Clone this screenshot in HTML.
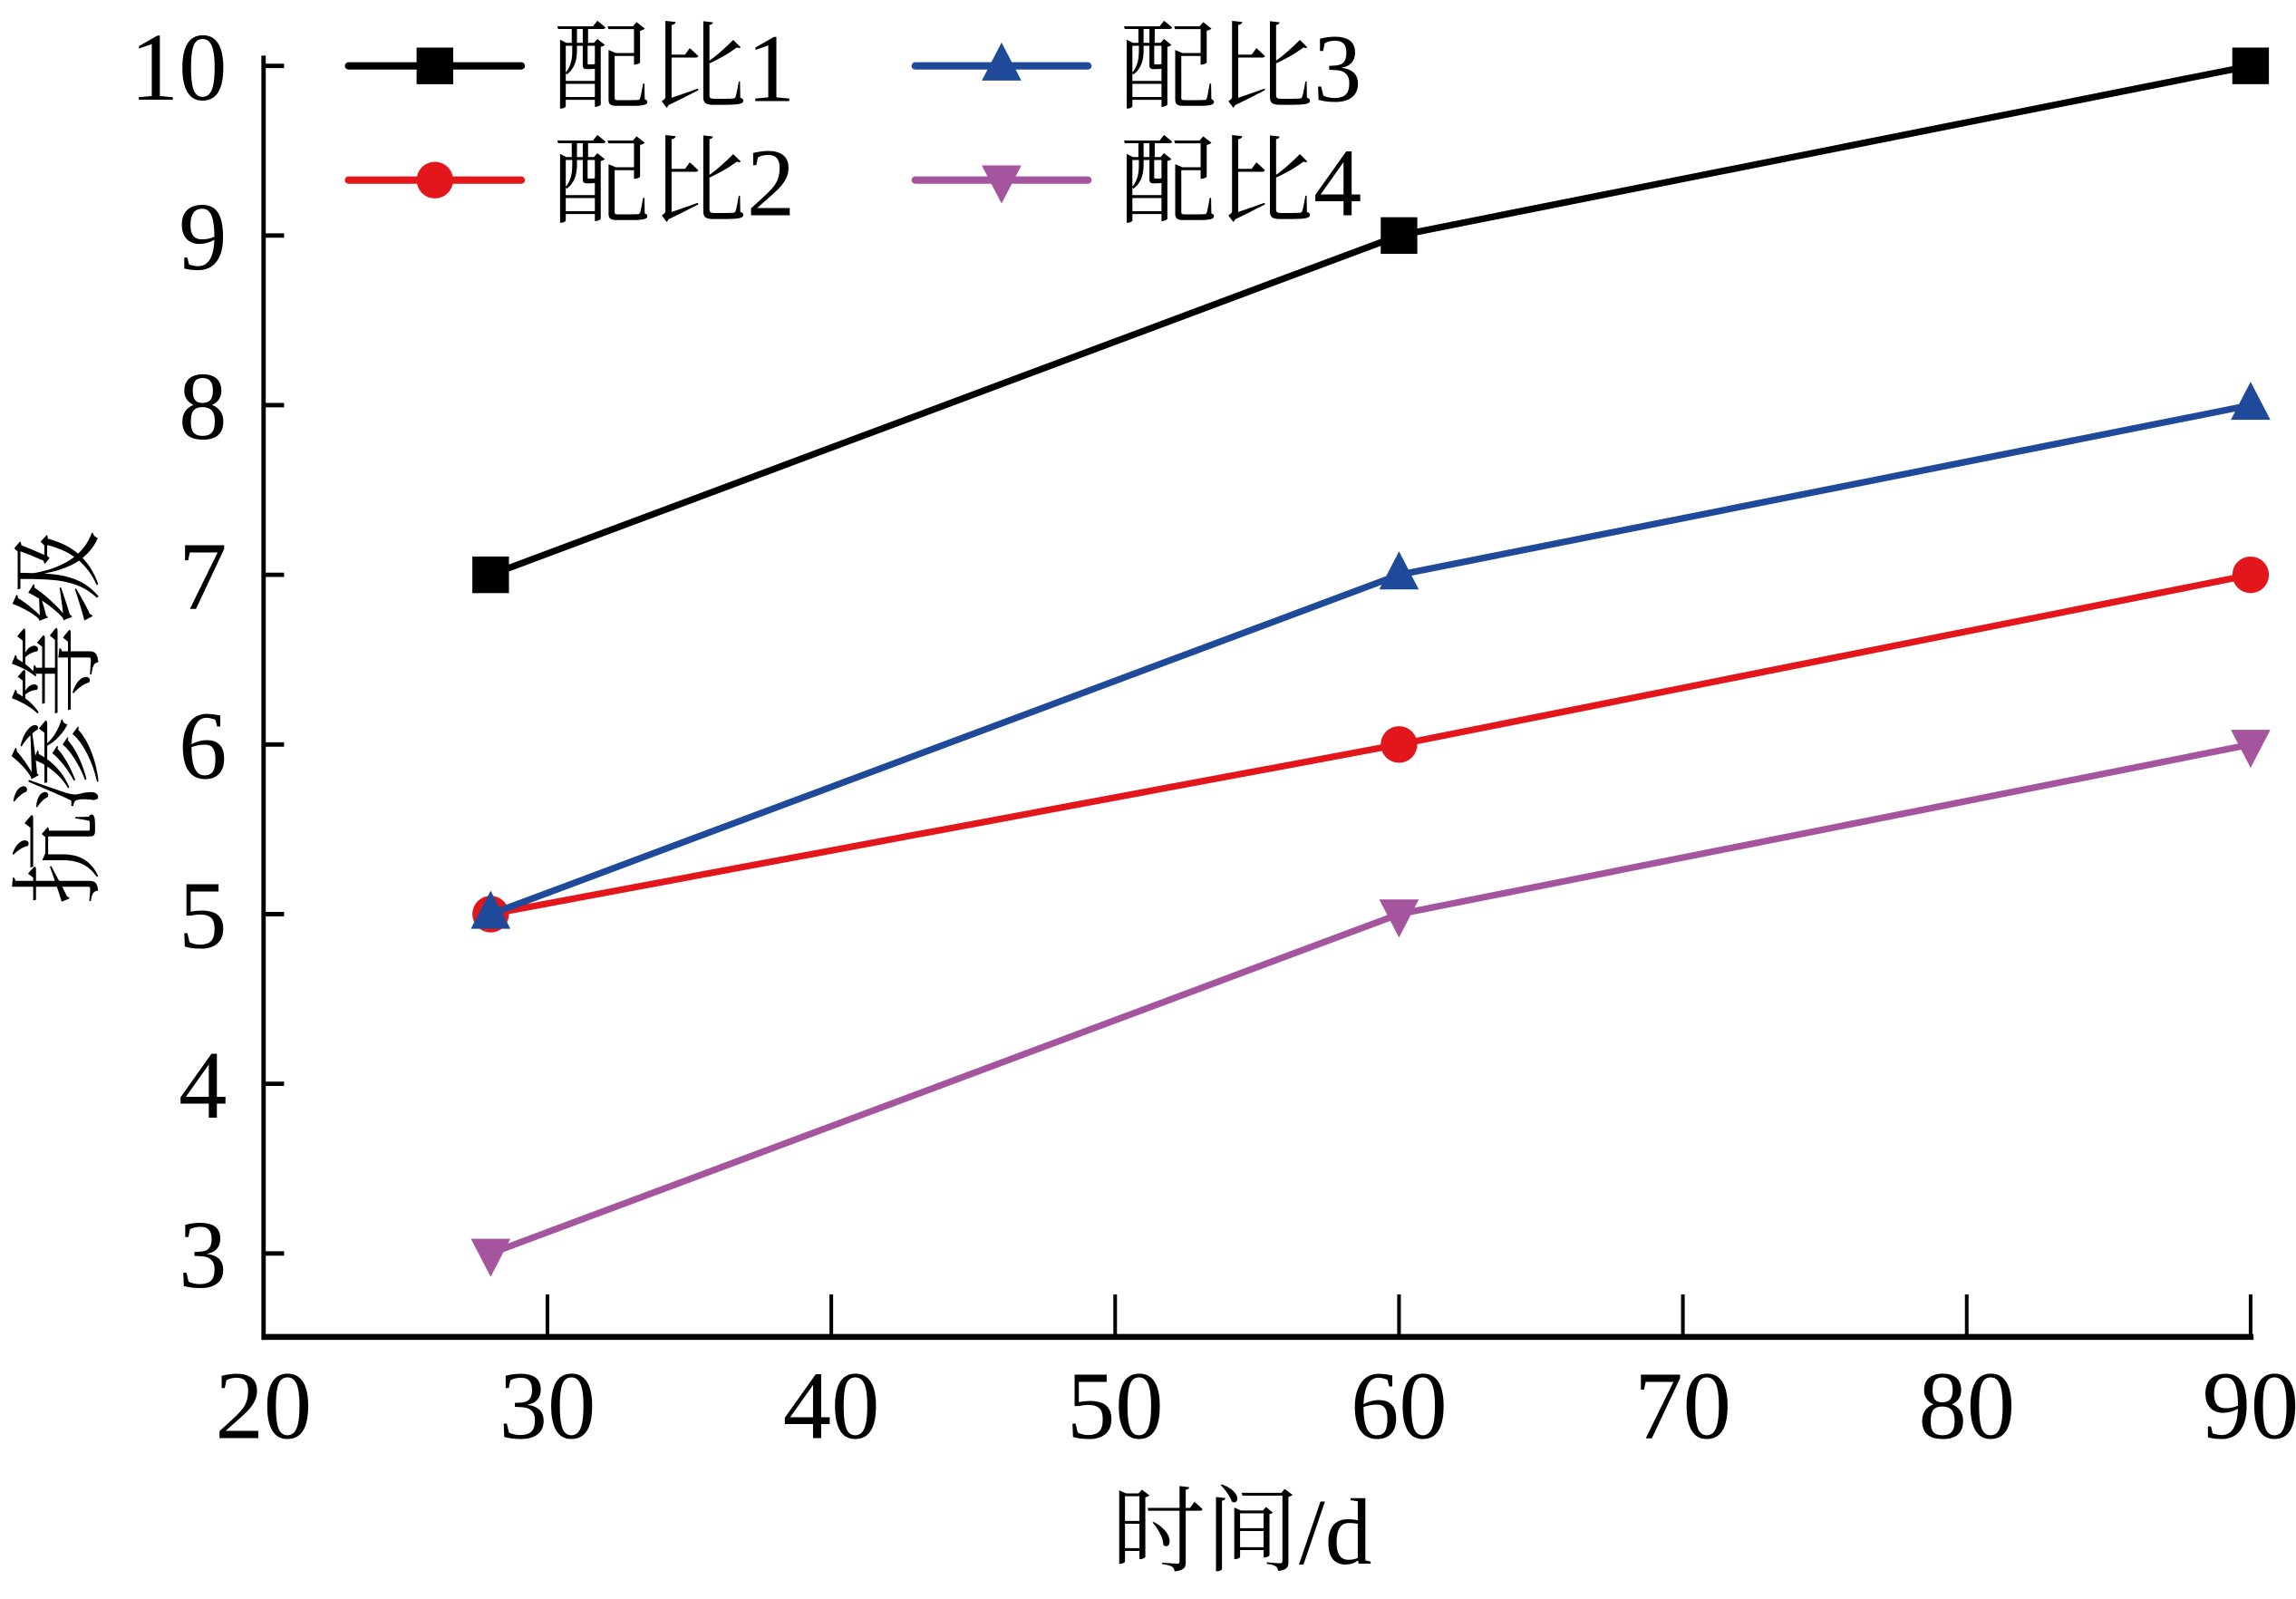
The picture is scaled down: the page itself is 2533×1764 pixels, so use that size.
<!DOCTYPE html>
<html><head><meta charset="utf-8"><style>
html,body{margin:0;padding:0;background:#fff;}
svg{display:block;}
text{font-family:"Liberation Serif","Noto Serif CJK SC","Noto Sans CJK SC",serif;fill:#000;}
</style></head><body>
<svg id="chart" width="2533" height="1764" viewBox="0 0 1568 1092" preserveAspectRatio="none" xmlns="http://www.w3.org/2000/svg"></svg>
<script>
const categories = [28, 60, 90];
const seriesNames = ["配比1", "配比2", "配比3", "配比4"];
const s1 = [7, 9, 10];
const s2 = [5, 6, 7];
const s3 = [5, 7, 8];
const s4 = [3, 5, 6];
const xTicks = [20, 30, 40, 50, 60, 70, 80, 90];
const yTicks = [3, 4, 5, 6, 7, 8, 9, 10];

const NS = "http://www.w3.org/2000/svg";
const svg = document.getElementById('chart');
const X0 = 180, X1 = 1537, YB = 913;
function xs(v){ return X0 + (v - 20) / 70 * (X1 - X0); }
function ys(v){ return 856 - (v - 3) * 115.86; }
function mk(tag, attrs, parent){
  const e = document.createElementNS(NS, tag);
  for (const k in attrs) e.setAttribute(k, attrs[k]);
  (parent || svg).appendChild(e);
  return e;
}

let ax = mk('line', {x1: X0, y1: 38, x2: X0, y2: YB + 2, stroke: '#000', 'stroke-width': 3});


ax = mk('line', {x1: X0 - 1, y1: YB, x2: X1 + 2, y2: YB, stroke: '#000', 'stroke-width': 4});



xTicks.forEach(t => {
  const x = xs(t);
  if (t !== 20) {
    const l = mk('line', {x1: x, y1: YB, x2: x, y2: YB - 29, stroke: '#000', 'stroke-width': 2.5});
    
    
  }
  const tx = mk('text', {x: x, y: 982, 'font-size': 66, 'text-anchor': 'middle'});
  tx.textContent = t;
  
  
});
yTicks.forEach(t => {
  const y = ys(t);
  const l = mk('line', {x1: X0, y1: y, x2: X0 + 14, y2: y, stroke: '#000', 'stroke-width': 3});
  
  
  const tx = mk('text', {x: 155, y: y + 23, 'font-size': 66, 'text-anchor': 'end'});
  tx.textContent = t;
  
  
});

let t = mk('text', {x: 848, y: 1068, 'font-size': 64, 'text-anchor': 'middle'});
t.textContent = '时间/d';


t = mk('text', {x: 0, y: 0, 'font-size': 64, 'text-anchor': 'middle', transform: 'translate(62,490) rotate(-90)'});
t.textContent = '抗渗等级';



const colors = ['#000000', '#e3171b', '#1f4a9a', '#a5559e'];
const shapes = ['square', 'circle', 'tri', 'tridown'];
function marker(shape, x, y, color, g){
  let e;
  if (shape === 'square') e = mk('rect', {x: x - 12.5, y: y - 12.5, width: 25, height: 25, fill: color}, g);
  else if (shape === 'circle') e = mk('circle', {cx: x, cy: y, r: 12.5, fill: color}, g);
  else if (shape === 'tri') e = mk('polygon', {points: `${x},${y-16} ${x-13.5},${y+10} ${x+13.5},${y+10}`, fill: color}, g);
  else e = mk('polygon', {points: `${x},${y+16} ${x-13.5},${y-10} ${x+13.5},${y-10}`, fill: color}, g);
  return e;
}
const allSeries = [s1, s2, s3, s4];
allSeries.forEach((s, i) => {
  const g = mk('g', {});
  
  
  const pts = s.map((v, j) => xs(categories[j]) + ',' + ys(v)).join(' ');
  const pl = mk('polyline', {points: pts, fill: 'none', stroke: colors[i], 'stroke-width': 4.5}, g);
  
  
  s.forEach((v, j) => {
    const m = marker(shapes[i], xs(categories[j]), ys(v), colors[i], g);
    
    
  });
});

const legPos = [[238, 45], [238, 123], [625, 45], [625, 123]];
seriesNames.forEach((n, i) => {
  const [lx, ly] = legPos[i];
  const g = mk('g', {});
  
  
  mk('line', {x1: lx, y1: ly, x2: lx + 118, y2: ly, stroke: colors[i], 'stroke-width': 5, 'stroke-linecap': 'round'}, g);
  marker(shapes[i], lx + 59, ly, colors[i], g);
  const tx = mk('text', {x: lx + 140, y: ly + 24, 'font-size': 66}, g);
  tx.textContent = n;
});
</script>
</body></html>
